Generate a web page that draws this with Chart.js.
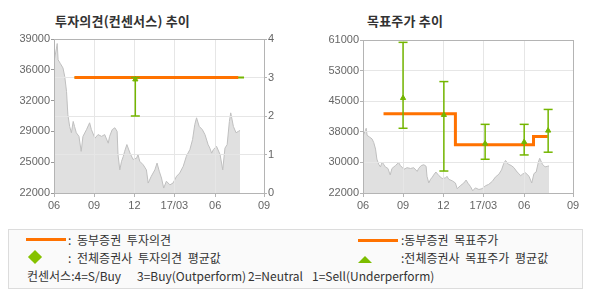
<!DOCTYPE html>
<html><head><meta charset="utf-8">
<script src="https://cdn.jsdelivr.net/npm/chart.js@4.4.0/dist/chart.umd.min.js"></script>
<style>
html,body{margin:0;padding:0;background:#fff;}
body{width:590px;height:300px;position:relative;overflow:hidden;font-family:"Noto Sans CJK KR",sans-serif;}
.abs{position:absolute;white-space:nowrap;}
.title{font-weight:bold;font-size:13px;letter-spacing:0.2px;color:#333;line-height:18px;}
canvas{position:absolute;top:0;}
#legend{position:absolute;left:8px;top:229px;width:575px;height:60px;border:1px solid #dcdcdc;background:#fafafa;box-sizing:border-box;}
.lg{font-size:12px;color:#333;line-height:16px;}
.ws{word-spacing:3px;}
</style></head>
<body>
<div class="abs title" style="left:55px;top:12px">투자의견(컨센서스) 추이</div>
<div class="abs title" style="left:367px;top:12px">목표주가 추이</div>
<canvas id="c1" width="295" height="225" style="left:0"></canvas>
<canvas id="c2" width="295" height="225" style="left:295px"></canvas>
<div id="legend"></div>
<div class="abs" style="left:26px;top:238px;width:40px;height:3px;background:#ff7200"></div>
<div class="abs lg ws" style="left:68px;top:232px">: 동부증권 투자의견</div>
<div class="abs" style="left:30px;top:252px;width:10px;height:10px;background:#86c200;transform:rotate(45deg)"></div>
<div class="abs lg ws" style="left:68px;top:250px">: 전체증권사 투자의견 평균값</div>
<div class="abs" style="left:358px;top:239px;width:40px;height:3px;background:#ff7200"></div>
<div class="abs lg ws" style="left:401px;top:232px">:동부증권 목표주가</div>
<div class="abs" style="left:358px;top:256px;width:0;height:0;border-left:7.5px solid transparent;border-right:7.5px solid transparent;border-bottom:7px solid #7cbd00"></div>
<div class="abs lg ws" style="left:401px;top:250px">:전체증권사 목표주가 평균값</div>
<div class="abs lg" style="left:27px;top:268px">컨센서스:4=S/Buy</div>
<div class="abs lg" style="left:137px;top:268px">3=Buy(Outperform)</div>
<div class="abs lg" style="left:248px;top:268px">2=Neutral</div>
<div class="abs lg" style="left:312px;top:268px">1=Sell(Underperform)</div>
<script>
// ---- data ----
const xTickDays = [1.75, 92, 183, 273, 365, 475];
const xTickLabels = ['06','09','12','17/03','06','09'];

const priceDays = [2,7,9,11,16,22,26,30,33,37,41,45,48,52,58,63,67,75,82,86,94,101,109,116,124,127,133,139,144,146,150,154,158,161,166,173,180,188,191,195,203,210,214,221,229,234,239,244,249,255,263,270,278,285,293,300,308,314,319,323,329,336,342,349,353,357,361,368,376,382,387,392,397,400,406,412,417,421];
const priceVals = [36600,37900,38500,36700,36300,35800,34850,33200,30650,29350,28650,29900,29350,28650,28250,26600,28250,29000,29750,29000,28050,28450,28250,28450,27500,28250,29000,29200,28800,26250,24550,25500,26050,26600,27350,26400,25700,25850,26250,25500,25100,24550,23100,23850,24550,25300,24400,23650,22550,23300,22900,23100,23850,24200,24950,26050,26800,27900,29550,30300,29350,29000,28450,27350,26950,26400,26800,27150,26250,24550,26950,27350,29900,30850,29350,28650,28800,28900];

const opLeftTicks = [22000,25400,28800,32200,35600,39000];
const opLeftLabels = ['22000','25000','29000','32000','36000','39000'];
const opDays = [48,417];
const opVals = [3,3];
const opAvgDays = [48,430];
const opAvgVals = [3,3];
const opBarDays = [185];
const opBarLow = [2];
const opBarHigh = [3];
const opBarAvg = [2.95];

const tpTicks = [22000,29800,37600,45400,53200,61000];
const tpLabels = ['22000','30000','38000','45000','53000','61000'];
const tpDays = [48,210,386,418];
const tpVals = [42200,34300,36400,36400];
const ctDays = [92,184,277,365,419];
const ctLow  = [38500,27600,30600,31700,32400];
const ctHigh = [60400,50400,39500,39500,43300];
const ctAvg  = [46200,41900,34600,35000,37900];

// ---- styles ----
const GREEN='#74b600', ORANGE='#ff7200', FRAME='#b4b4b4', GRID='#e6e6e6';
const FONT={family:'"Liberation Sans", Arial, sans-serif', size:11};
const TICKCOL='#666';

const pts=(xs,ys)=>xs.map((x,i)=>({x:x,y:ys[i]}));
function barData(d,lo,hi){const a=[];d.forEach((x,i)=>{a.push({x:x,y:lo[i]},{x:x,y:hi[i]},{x:x,y:null});});return a;}
function capData(d,lo,hi){const a=[];d.forEach((x,i)=>{a.push({x:x,y:lo[i]},{x:x,y:hi[i]});});return a;}

const gridOver={id:'gridOver',afterDatasetDraw(chart,args){
  const ds=chart.data.datasets[args.index];
  if(ds&&ds.isPrice){
    Object.values(chart.scales).forEach(s=>{
      if(s.options.grid.display&&s.options.grid.drawOnChartArea) s.drawGrid(chart.chartArea);
    });
  }
}};
function al(p){return Math.round(p-0.5)+0.5;}
const frame={id:'frame',afterDraw(chart){
  const a=chart.chartArea,c=chart.ctx;
  c.save();c.strokeStyle=FRAME;c.lineWidth=1;
  const l=al(a.left),t=al(a.top),r=al(a.right),b=al(a.bottom);
  c.strokeRect(l,t,r-l,b-t);c.restore();
}};

function xScale(){
  return {type:'linear',min:xTickDays[0],max:xTickDays[xTickDays.length-1],
    afterBuildTicks(s){s.ticks=xTickDays.map(v=>({value:v}));},
    afterFit(s){s.height=32;},
    ticks:{autoSkip:false,maxRotation:0,minRotation:0,padding:2,color:TICKCOL,font:FONT,
      callback:(v,i)=>xTickLabels[i]},
    grid:{color:GRID,tickLength:4,tickColor:FRAME},
    border:{color:FRAME}};
}
function priceDs(){
  return {isPrice:true,data:pts(priceDays,priceVals),yAxisID:'y',borderColor:'#bfbfbf',borderWidth:1,
    backgroundColor:'#e0e0e0',fill:'start',pointRadius:0,tension:0,order:10};
}
function errDs(d,lo,hi,av,yid){
  return [
    {data:barData(d,lo,hi),yAxisID:yid,borderColor:GREEN,borderWidth:1.5,pointRadius:0,spanGaps:false,order:3},
    {data:capData(d,lo,hi),yAxisID:yid,showLine:false,pointStyle:'line',pointRadius:4.5,pointBorderWidth:1.5,pointBorderColor:GREEN,order:1},
    {data:pts(d,av),yAxisID:yid,showLine:false,pointStyle:'triangle',pointRadius:3,pointBackgroundColor:GREEN,pointBorderColor:GREEN,pointBorderWidth:1,order:0}
  ];
}
const common={responsive:false,animation:false,events:[],
  plugins:{legend:{display:false},tooltip:{enabled:false}}};

new Chart(document.getElementById('c1'),{
  type:'line',
  data:{datasets:[
    priceDs(),
    {data:pts(opAvgDays,opAvgVals),yAxisID:'y1',borderColor:GREEN,borderWidth:2,pointRadius:0,order:5},
    {data:pts(opDays,opVals),yAxisID:'y1',borderColor:ORANGE,borderWidth:3,pointRadius:0,borderCapStyle:'butt',order:4},
    ...errDs(opBarDays,opBarLow,opBarHigh,opBarAvg,'y1')
  ]},
  options:Object.assign({},common,{
    layout:{padding:{top:39,left:0,right:0,bottom:0}},
    scales:{
      x:xScale(),
      y:{type:'linear',position:'left',min:opLeftTicks[0],max:opLeftTicks[opLeftTicks.length-1],
        afterBuildTicks(s){s.ticks=opLeftTicks.map(v=>({value:v}));},
        afterFit(s){s.width=54;},
        ticks:{padding:1,color:TICKCOL,font:FONT,callback:(v,i)=>opLeftLabels[i]},
        grid:{drawOnChartArea:false,tickLength:3,tickColor:'#999'},
        border:{color:FRAME}},
      y1:{type:'linear',position:'right',min:0,max:4,
        ticks:{stepSize:1,padding:1,color:TICKCOL,font:FONT},
        afterFit(s){s.width=31;},
        grid:{color:GRID,tickLength:3,tickColor:FRAME},
        border:{color:FRAME}}
    }
  }),
  plugins:[gridOver,frame]
});

new Chart(document.getElementById('c2'),{
  type:'line',
  data:{datasets:[
    priceDs(),
    {data:pts(tpDays,tpVals),yAxisID:'y',borderColor:ORANGE,borderWidth:3,pointRadius:0,stepped:true,borderCapStyle:'butt',order:4},
    ...errDs(ctDays,ctLow,ctHigh,ctAvg,'y')
  ]},
  options:Object.assign({},common,{
    layout:{padding:{top:40,left:0,right:17,bottom:0}},
    scales:{
      x:xScale(),
      y:{type:'linear',position:'left',min:tpTicks[0],max:tpTicks[tpTicks.length-1],
        afterBuildTicks(s){s.ticks=tpTicks.map(v=>({value:v}));},
        afterFit(s){s.width=68;},
        ticks:{padding:1,color:TICKCOL,font:FONT,callback:(v,i)=>tpLabels[i]},
        grid:{color:GRID,tickLength:3,tickColor:FRAME},
        border:{color:FRAME}}
    }
  }),
  plugins:[gridOver,frame]
});
</script>
</body></html>
